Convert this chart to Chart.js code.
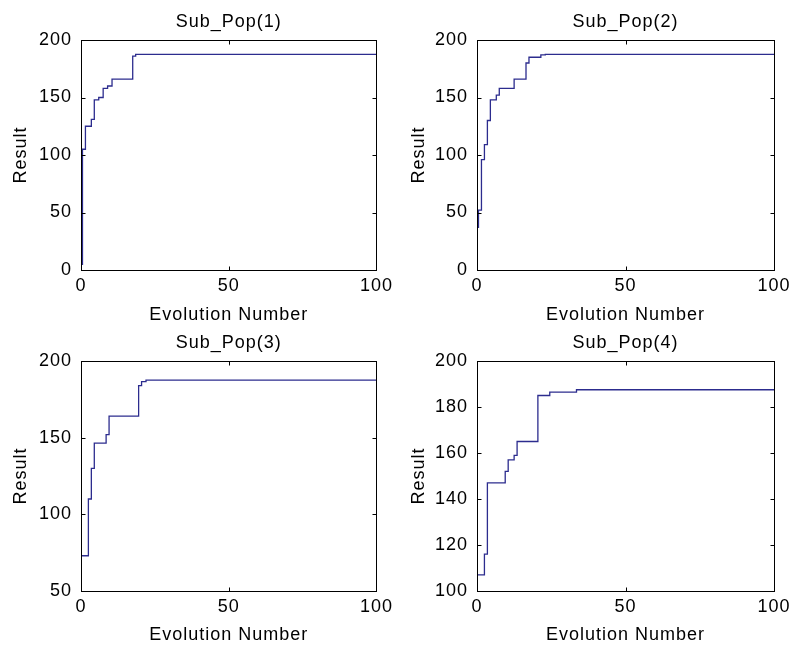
<!DOCTYPE html>
<html>
<head>
<meta charset="utf-8">
<script src="https://cdn.jsdelivr.net/npm/chart.js@4.4.1/dist/chart.umd.min.js"></script>
<style>
  body { margin: 0; background: #fff; }
  #wrap { position: relative; width: 796px; height: 649px; overflow: hidden; background: #fff; }
  canvas { position: absolute; }
</style>
</head>
<body>
<div id="wrap">
  <canvas id="c1" width="398" height="324" style="left:0;top:0"></canvas>
  <canvas id="c2" width="398" height="324" style="left:398px;top:0"></canvas>
  <canvas id="c3" width="398" height="325" style="left:0;top:324px"></canvas>
  <canvas id="c4" width="398" height="325" style="left:398px;top:324px"></canvas>
</div>
<script>
// best result per evolution number, only the points where the curve bends
const gen1 = [0, 1, 2, 3, 4, 5, 7, 8, 10, 11, 17, 18, 19, 100];
const res1 = [5, 105, 125, 125, 131, 148, 150, 158, 160, 166, 166, 186, 187.5, 187.5];

const gen2 = [0, 1, 2, 3, 4, 5, 6, 7, 8, 12, 13, 16, 17, 18, 21, 22, 24, 100];
const res2 = [37, 52, 96, 109, 130, 148, 148, 152, 158, 158, 166, 166, 180, 185, 185, 187, 187.5, 187.5];

const gen3 = [0, 2, 3, 4, 5, 8, 9, 10, 19, 20, 21, 23, 100];
const res3 = [73, 73, 110, 130, 146.5, 146.5, 152, 164, 164, 184, 186.5, 187.5, 187.5];

const gen4 = [0, 2, 3, 4, 9, 10, 11, 12, 13, 14, 20, 21, 24, 25, 33, 34, 100];
const res4 = [107, 107, 116, 147, 147, 152, 157, 157, 159, 165, 165, 185, 185, 186.5, 186.5, 187.5, 187.5];

const titles = ['Sub_Pop(1)', 'Sub_Pop(2)', 'Sub_Pop(3)', 'Sub_Pop(4)'];
const yMins = [0, 0, 50, 100];
const yMaxs = [200, 200, 200, 200];
const ySteps = [50, 50, 50, 20];
const xStep = 50;

const FONT = '"Liberation Sans", Arial, sans-serif';
Chart.defaults.font.family = FONT;
Chart.defaults.font.size = 18;
Chart.defaults.color = '#000';

// MATLAB style frame: box, inward ticks on all sides, title
const boxPlugin = {
  id: 'box',
  beforeUpdate(chart) { chart.ctx.letterSpacing = '1px'; },
  beforeDraw(chart) { chart.ctx.letterSpacing = '1px'; },
  afterDraw(chart, args, opts) {
    const { ctx, chartArea: a, scales: { x, y } } = chart;
    ctx.save();
    ctx.strokeStyle = '#000';
    ctx.lineWidth = 1;
    const L = Math.round(a.left) + 0.5, R = Math.round(a.right) + 0.5;
    const T = Math.round(a.top) + 0.5, B = Math.round(a.bottom) + 0.5;
    ctx.strokeRect(L, T, R - L, B - T);
    ctx.beginPath();
    x.ticks.forEach(t => {
      const px = Math.round(x.getPixelForValue(t.value)) + 0.5;
      ctx.moveTo(px, B); ctx.lineTo(px, B - 4);
      ctx.moveTo(px, T); ctx.lineTo(px, T + 4);
    });
    y.ticks.forEach(t => {
      const py = Math.round(y.getPixelForValue(t.value)) + 0.5;
      ctx.moveTo(L, py); ctx.lineTo(L + 4, py);
      ctx.moveTo(R, py); ctx.lineTo(R - 4, py);
    });
    ctx.stroke();
    ctx.letterSpacing = '1px';
    ctx.fillStyle = '#000';
    ctx.font = '18px ' + FONT;
    ctx.textAlign = 'center';
    ctx.textBaseline = 'alphabetic';
    ctx.fillText(opts.text, (a.left + a.right) / 2, a.top - 13);
    ctx.restore();
  }
};

const panels = [
  { id: 'c1', yw: 81, pr: 20, pt: 40, xh: 54, tb: 0 },
  { id: 'c2', yw: 79, pr: 22, pt: 40, xh: 54, tb: 0 },
  { id: 'c3', yw: 81, pr: 20, pt: 37, xh: 58, tb: 5 },
  { id: 'c4', yw: 79, pr: 22, pt: 37, xh: 58, tb: 5 }
];
const gens = [gen1, gen2, gen3, gen4];
const results = [res1, res2, res3, res4];

panels.forEach((p, i) => {
  new Chart(document.getElementById(p.id), {
    type: 'line',
    data: {
      datasets: [{
        data: gens[i].map((g, k) => ({ x: g, y: results[i][k] })),
        borderColor: '#2c2c8e',
        borderWidth: 1.3,
        pointRadius: 0,
        stepped: 'middle',
        fill: false
      }]
    },
    options: {
      responsive: false,
      animation: false,
      layout: { padding: { left: 0, right: p.pr, top: p.pt, bottom: 0 } },
      plugins: {
        legend: { display: false },
        tooltip: { enabled: false },
        box: { text: titles[i] }
      },
      scales: {
        x: {
          type: 'linear',
          min: 0, max: 100,
          grid: { display: false, drawTicks: false },
          border: { display: false },
          ticks: { stepSize: xStep, padding: 5, maxRotation: 0 },
          title: { display: true, text: 'Evolution Number', font: { size: 18, lineHeight: 1 }, padding: { top: 0, bottom: p.tb } },
          afterFit(s) { s.height = p.xh; }
        },
        y: {
          min: yMins[i], max: yMaxs[i],
          grid: { display: false, drawTicks: false },
          border: { display: false },
          ticks: { stepSize: ySteps[i], padding: 9 },
          title: { display: true, text: 'Result', font: { size: 18, lineHeight: 1 }, padding: { top: 12, bottom: 0 } },
          afterFit(s) { s.width = p.yw; }
        }
      }
    },
    plugins: [boxPlugin]
  });
});
</script>
</body>
</html>
